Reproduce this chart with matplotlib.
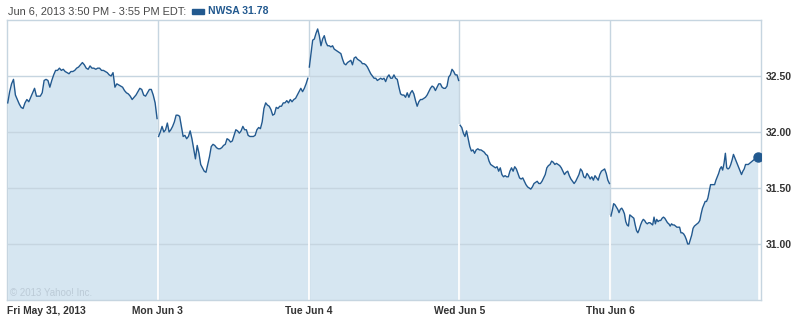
import matplotlib
matplotlib.use("Agg")
import matplotlib.pyplot as plt
import numpy as np
from matplotlib.patches import Rectangle

# ---- data (NWSA 5-day, 5-minute prices) ----
day_labels = ["Fri May 31, 2013", "Mon Jun 3", "Tue Jun 4", "Wed Jun 5", "Thu Jun 6"]
y_ticks = [31.00, 31.50, 32.00, 32.50]
y_tick_labels = ["31.00", "31.50", "32.00", "32.50"]

fri = [32.26, 32.36, 32.43, 32.47, 32.33, 32.29, 32.25, 32.22, 32.21, 32.26, 32.29, 32.27,
       32.31, 32.35, 32.39, 32.32, 32.32, 32.32, 32.35, 32.46, 32.47, 32.46, 32.40, 32.46,
       32.51, 32.55, 32.55, 32.57, 32.55, 32.56, 32.54, 32.53, 32.52, 32.54, 32.54, 32.55,
       32.57, 32.58, 32.60, 32.62, 32.60, 32.57, 32.56, 32.59, 32.57, 32.57, 32.56, 32.57,
       32.57, 32.55, 32.55, 32.54, 32.53, 32.51, 32.50, 32.53, 32.40, 32.43, 32.42, 32.41,
       32.40, 32.37, 32.35, 32.34, 32.32, 32.29, 32.31, 32.33, 32.36, 32.39, 32.38, 32.33,
       32.32, 32.35, 32.38, 32.38, 32.33, 32.26, 32.12]
mon = [31.96, 32.00, 32.05, 32.00, 32.02, 32.08, 32.00, 32.02, 32.05, 32.09, 32.15, 32.15,
       32.14, 32.05, 31.96, 31.97, 31.94, 31.96, 32.01, 31.94, 31.85, 31.76, 31.88, 31.81,
       31.71, 31.68, 31.65, 31.64, 31.71, 31.78, 31.87, 31.89, 31.88, 31.86, 31.85, 31.85,
       31.86, 31.88, 31.89, 31.94, 31.93, 31.91, 31.92, 31.97, 32.02, 32.01, 31.99, 32.01,
       32.05, 32.02, 32.02, 31.97, 31.96, 31.96, 31.96, 31.97, 32.02, 32.04, 32.03, 32.09,
       32.21, 32.26, 32.24, 32.23, 32.20, 32.15, 32.16, 32.22, 32.21, 32.23, 32.23, 32.26,
       32.26, 32.28, 32.26, 32.29, 32.27, 32.29, 32.30, 32.33, 32.36, 32.39, 32.36, 32.39,
       32.43, 32.48]
tue = [32.58, 32.70, 32.82, 32.83, 32.88, 32.92, 32.86, 32.77, 32.83, 32.86, 32.80, 32.77,
       32.77, 32.76, 32.77, 32.74, 32.73, 32.72, 32.71, 32.70, 32.65, 32.61, 32.60, 32.62,
       32.63, 32.64, 32.60, 32.66, 32.67, 32.65, 32.64, 32.63, 32.61, 32.61, 32.60, 32.58,
       32.55, 32.52, 32.50, 32.48, 32.48, 32.46, 32.47, 32.48, 32.47, 32.48, 32.45, 32.49,
       32.51, 32.48, 32.48, 32.51, 32.48, 32.47, 32.40, 32.34, 32.33, 32.33, 32.31, 32.35,
       32.31, 32.35, 32.37, 32.34, 32.28, 32.23, 32.27, 32.29, 32.29, 32.30, 32.31, 32.33,
       32.36, 32.39, 32.41, 32.40, 32.37, 32.40, 32.43, 32.43, 32.40, 32.39, 32.39, 32.41,
       32.49, 32.51, 32.56, 32.54, 32.51, 32.51, 32.46]
wed = [32.06, 32.04, 31.99, 31.96, 32.01, 31.94, 31.87, 31.83, 31.84, 31.81, 31.84, 31.85,
       31.84, 31.84, 31.83, 31.82, 31.80, 31.79, 31.74, 31.71, 31.70, 31.69, 31.68, 31.69,
       31.65, 31.68, 31.62, 31.60, 31.61, 31.60, 31.60, 31.65, 31.68, 31.65, 31.69, 31.67,
       31.63, 31.59, 31.58, 31.59, 31.56, 31.53, 31.51, 31.50, 31.49, 31.51, 31.54, 31.55,
       31.56, 31.54, 31.54, 31.56, 31.59, 31.62, 31.68, 31.70, 31.71, 31.74, 31.73, 31.71,
       31.72, 31.71, 31.70, 31.68, 31.65, 31.62, 31.64, 31.65, 31.61, 31.58, 31.56, 31.54,
       31.56, 31.59, 31.62, 31.67, 31.65, 31.60, 31.59, 31.63, 31.61, 31.58, 31.60, 31.57,
       31.61, 31.59, 31.57, 31.62, 31.65, 31.66, 31.67, 31.63, 31.57, 31.54]
thu = [31.25, 31.30, 31.36, 31.35, 31.33, 31.31, 31.28, 31.31, 31.32, 31.30, 31.27, 31.20,
       31.17, 31.16, 31.26, 31.25, 31.24, 31.23, 31.17, 31.12, 31.10, 31.13, 31.17, 31.20,
       31.22, 31.21, 31.19, 31.18, 31.19, 31.19, 31.18, 31.17, 31.24, 31.18, 31.22, 31.20,
       31.21, 31.21, 31.23, 31.24, 31.23, 31.21, 31.19, 31.18, 31.16, 31.18, 31.17, 31.17,
       31.16, 31.15, 31.15, 31.15, 31.10, 31.10, 31.09, 31.07, 31.04, 31.00, 31.00, 31.04,
       31.08, 31.14, 31.16, 31.17, 31.18, 31.19, 31.21, 31.27, 31.32, 31.35, 31.38, 31.38,
       31.41, 31.47, 31.53, 31.53, 31.53, 31.53, 31.57, 31.60, 31.63, 31.67, 31.69, 31.66,
       31.72, 31.81, 31.68, 31.67, 31.68, 31.71, 31.75, 31.80, 31.77, 31.74, 31.71, 31.68,
       31.65, 31.62, 31.65, 31.67, 31.71, 31.71, 31.71, 31.72, 31.73, 31.74, 31.75, 31.76,
       31.77, 31.78]
days = [fri, mon, tue, wed, thu]
day_end_frac = [0.995, 0.995, 0.995, 0.995, 0.978]   # portion of session covered
header_left = "Jun 6, 2013 3:50 PM - 3:55 PM EDT:"
header_right = "NWSA 31.78"

# ---- style ----
W, H = 794, 317
line_c = "#22598f"
fill_c = "#d6e6f1"
grid_c = "#c6d5e0"
text_c = "#333333"
plt.rcParams["font.family"] = ["Liberation Sans", "DejaVu Sans"]

fig = plt.figure(figsize=(W / 100, H / 100), dpi=100)
ax = fig.add_axes([7 / W, 1 - 300 / H, (761 - 7) / W, (300 - 20) / H])
ax.set_xlim(0, 5)
ax.set_ylim(30.5, 33.0)

ymin = 30.5
for i, vals in enumerate(days):
    v = np.asarray(vals)
    x = i + np.linspace(0.005, day_end_frac[i], len(v))
    ax.fill_between(x, ymin, v, color=fill_c, lw=0, zorder=0.5)
    ax.plot(x, v, color=line_c, lw=1.0, zorder=3, solid_joinstyle="round")
    if i > 0:
        prev = days[i - 1]
        xb = [i - 1 + day_end_frac[i - 1], i + 0.005]
        ax.fill_between(xb, ymin, [prev[-1], v[0]], color=fill_c, lw=0, zorder=0.5)

# grid lines
for yt in y_ticks:
    ax.axhline(yt, color=grid_c, lw=1.0, zorder=1)
for d in range(1, 5):
    ax.axvline(d, color=grid_c, lw=1.0, zorder=1)
    top = min(days[d - 1][-1], days[d][0])
    ax.plot([d, d], [ymin, top], color="white", lw=1.3, zorder=1.5)

# last point marker
last_x = 4 + day_end_frac[4]
ax.plot([last_x], [thu[-1]], "o", color=line_c, ms=6.5, zorder=4)

for s in ax.spines.values():
    s.set_color(grid_c)
    s.set_linewidth(1.0)

ax.yaxis.tick_right()
ax.set_yticks(y_ticks)
ax.set_yticklabels(y_tick_labels)
ax.set_xticks(range(5))
ax.set_xticklabels(day_labels)
ax.tick_params(axis="both", length=0, colors=text_c)
ax.tick_params(axis="y", pad=3.6, labelsize=7.5)
ax.tick_params(axis="x", pad=4.0, labelsize=7.4)
for lab in ax.get_xticklabels() + ax.get_yticklabels():
    lab.set_fontweight("bold")
ax.get_xticklabels()[0].set_horizontalalignment("left")

ax.text(0.02, 30.535, "\u00a9 2013 Yahoo! Inc.", fontsize=7.0, color="#bccbd7", zorder=2)

# header
fig.text(8 / W, 1 - 11 / H, header_left, fontsize=7.9, color="#484848", va="center", ha="left")
fig.patches.append(Rectangle((192 / W, 1 - 13.5 / H), 12 / W, 4 / H, transform=fig.transFigure,
                             color=line_c, figure=fig))
fig.text(208 / W, 1 - 11 / H, header_right, fontsize=7.5, color=line_c, fontweight="bold",
         va="center", ha="left")

fig.savefig("out.png", dpi=100, facecolor="white")
